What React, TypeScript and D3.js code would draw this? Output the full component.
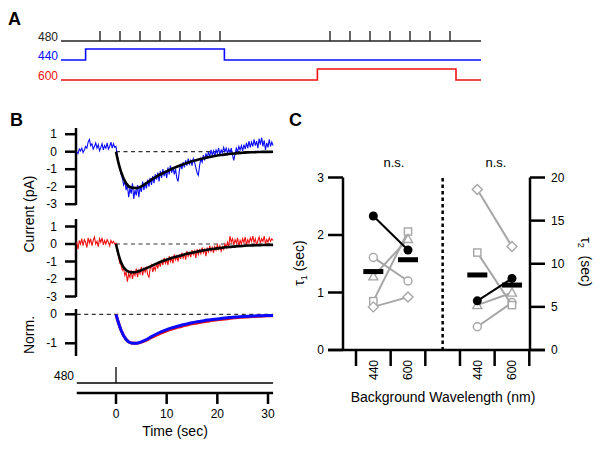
import React from 'react';
import * as d3 from 'd3';

const FONT = "'Liberation Sans', Arial, sans-serif";
const BLUE = '#0a0aff';
const RED = '#f01010';
const GRAY = '#a6a6a6';

// ---- panel A: stimulus protocol (minutes) ----
const protoEnd = 21;
const flashTimes = [1.95, 2.95, 3.95, 4.95, 5.95, 6.95, 7.95, 13.45, 14.45, 15.45, 16.45, 17.45, 18.45, 19.45];
const bg440 = [1.23, 8.17];
const bg600 = [12.82, 19.75];

// ---- panel B: currents ----
const traceStart = -7.75;
const traceStep = 0.25;
const blueTrace = [
  0.0, -0.1, 0.15, 0.05, 0.2, -0.05, 0.1, 0.3, 0.2, 0.55, 0.7, 0.35, 0.45, 0.15, 0.3, 0.5,
  0.2, 0.4, 0.05, 0.25, 0.45, 0.1, 0.35, 0.2, 0.5, 0.15, 0.3, 0.55, 0.2, 0.45, 0.25,
  0.3, -0.2, -0.6, -0.9, -1.3, -1.5, -1.9, -1.7, -2.2, -1.9, -2.6, -2.1, -2.4, -1.8, -2.7, -2.2,
  -2.5, -1.9, -2.6, -2.0, -2.3, -1.7, -2.2, -1.8, -2.1, -1.6, -2.0, -1.5, -1.9, -1.4, -1.8, -1.3,
  -1.6, -1.2, -1.7, -1.1, -1.5, -1.0, -1.4, -1.1, -1.5, -0.9, -1.3, -0.8, -1.2, -0.9, -1.3, -1.0,
  -1.5, -1.7, -1.1, -0.7, -1.0, -0.6, -0.9, -0.5, -0.8, -0.4, -0.7, -0.5, -0.8, -0.4, -0.6, -0.9,
  -1.2, -1.35, -0.8, -0.4, -0.6, -0.2, -0.5, -0.1, -0.4, 0.0, -0.3, 0.1, -0.2, 0.05, -0.25, 0.1,
  -0.1, 0.2, -0.15, 0.1, -0.05, 0.25, 0.0, 0.2, -0.1, 0.15, -0.05, 0.2, -0.2, -0.5, -0.1, 0.2,
  0.0, 0.3, 0.1, 0.35, 0.05, 0.4, 0.15, 0.5, 0.2, 0.6, 0.25, 0.55, 0.3, 0.7, 0.35, 0.6,
  0.2, 0.75, 0.4, 0.8, 0.3, 0.65, 0.1, 0.5, 0.25, 0.7, 0.3, 0.55, 0.35,
];
const redTrace = [
  0.1, -0.3, 0.2, 0.0, 0.3, -0.1, 0.25, 0.1, -0.2, 0.35, 0.05, 0.3, -0.1, 0.2, 0.4, 0.0,
  0.15, -0.15, 0.3, 0.1, 0.35, -0.05, 0.2, 0.0, 0.25, 0.1, -0.1, 0.2, 0.05, 0.15, 0.0,
  0.05, -0.4, -0.7, -1.1, -1.2, -1.5, -1.4, -1.8, -1.6, -2.15, -1.7, -1.9, -1.5, -2.0, -1.6, -1.8,
  -1.4, -1.9, -1.5, -1.7, -1.3, -1.8, -1.4, -1.6, -1.3, -1.75, -1.9, -1.4, -1.2, -1.6, -1.3, -1.5,
  -1.1, -1.4, -1.0, -1.3, -0.9, -1.2, -0.8, -1.1, -0.9, -1.2, -0.7, -1.0, -0.8, -1.1, -0.6, -0.9,
  -0.7, -1.0, -0.6, -0.85, -0.5, -0.8, -0.55, -0.9, -0.4, -0.7, -0.5, -0.75, -0.35, -0.6, -0.4, -0.8,
  -0.3, -0.6, -0.35, -0.55, -0.2, -0.5, -0.3, -0.7, -0.25, -0.45, -0.1, -0.4, -0.2, -0.5, -0.15, -0.35,
  -0.05, -0.3, -0.1, -0.4, -0.15, -0.3, 0.0, -0.2, 0.1, -0.15, 0.45, 0.1, 0.3, -0.05, 0.25, 0.05,
  0.35, -0.1, 0.2, 0.0, 0.3, 0.1, 0.4, -0.05, 0.25, 0.05, 0.35, 0.15, 0.45, 0.1, 0.3, -0.1,
  0.2, 0.4, 0.05, 0.3, 0.15, 0.45, 0.0, 0.25, 0.1, 0.35, 0.15, 0.3, 0.2,
];
const fitTimes = [0, 0.5, 1, 2, 3, 4, 5, 6, 7, 8, 9, 10, 11, 12, 13, 14, 15, 16, 17, 18, 19, 20, 21, 22, 23, 24, 25, 26, 27, 28, 29, 30, 31];
const blueFit = [0, -0.65, -1.15, -1.8, -2.05, -2.08, -1.98, -1.8, -1.6, -1.42, -1.26, -1.12, -0.98, -0.86, -0.75, -0.65, -0.55, -0.47, -0.4, -0.33, -0.27, -0.22, -0.18, -0.14, -0.11, -0.08, -0.06, -0.04, -0.03, -0.02, -0.01, -0.01, 0];
const redFit = [0, -0.6, -1.05, -1.5, -1.62, -1.6, -1.5, -1.38, -1.25, -1.12, -1.0, -0.9, -0.8, -0.72, -0.64, -0.56, -0.5, -0.44, -0.38, -0.33, -0.29, -0.25, -0.21, -0.18, -0.15, -0.13, -0.11, -0.09, -0.08, -0.07, -0.06, -0.05, -0.05];
const normBlue = [0, -0.3, -0.55, -0.87, -0.99, -1.0, -0.95, -0.87, -0.77, -0.68, -0.6, -0.53, -0.47, -0.42, -0.37, -0.33, -0.29, -0.26, -0.23, -0.2, -0.18, -0.16, -0.14, -0.12, -0.1, -0.09, -0.08, -0.07, -0.06, -0.05, -0.05, -0.04, -0.04];
const normRed = [0, -0.3, -0.55, -0.87, -0.99, -1.0, -0.96, -0.89, -0.8, -0.72, -0.64, -0.57, -0.51, -0.46, -0.41, -0.37, -0.33, -0.3, -0.27, -0.24, -0.21, -0.19, -0.17, -0.15, -0.13, -0.11, -0.1, -0.09, -0.08, -0.07, -0.06, -0.05, -0.05];
const currentTicks = [1, 0, -1, -2, -3];
const normTicks = [0, -1];
const timeTicks = [0, 10, 20, 30];

// ---- panel C: time constants ----
const slots = ['t1-440', 't1-600', 'gap', 't2-440', 't2-600'];
const subjectShapes = ['filledCircle', 'circle', 'square', 'triangle', 'diamond'];
const tau1At440 = [2.33, 1.61, 0.85, 1.28, 0.75];
const tau1At600 = [1.74, 1.2, 2.06, 1.93, 0.92];
const tau2At440 = [5.7, 2.7, 11.3, 5.2, 18.6];
const tau2At600 = [8.3, 5.5, 5.2, 6.65, 12.0];
const tau1Ticks = [0, 1, 2, 3];
const tau2Ticks = [0, 5, 10, 15, 20];

function Marker({ shape, x, y }: { shape: string; x: number; y: number }) {
  const sw = 1.4;
  if (shape === 'filledCircle') return <circle cx={x} cy={y} r={4.5} fill="#000" />;
  if (shape === 'circle') return <circle cx={x} cy={y} r={4} fill="#fff" stroke={GRAY} strokeWidth={sw} />;
  if (shape === 'square') return <rect x={x - 3.6} y={y - 3.6} width={7.2} height={7.2} fill="#fff" stroke={GRAY} strokeWidth={sw} />;
  if (shape === 'triangle') return <path d={`M${x},${y - 4.5}L${x + 4.5},${y + 3.5}L${x - 4.5},${y + 3.5}Z`} fill="#fff" stroke={GRAY} strokeWidth={sw} />;
  return <path d={`M${x},${y - 5}L${x + 5},${y}L${x},${y + 5}L${x - 5},${y}Z`} fill="#fff" stroke={GRAY} strokeWidth={sw} />;
}

export default function App() {
  // A
  const xA = d3.scaleLinear().domain([0, protoEnd]).range([61, 481]);
  const stepLine = (base: number) =>
    d3.line<[number, number]>().x(d => xA(d[0])).y(d => base - 11 * d[1]).curve(d3.curveStepAfter);
  const stepPts = (on: number, off: number): [number, number][] => [[0, 0], [on, 1], [off, 0], [protoEnd, 0]];

  // B
  const xB = d3.scaleLinear().domain([0, 30]).range([116, 268]);
  const yTop = d3.scaleLinear().domain([1, -3]).range([134.2, 204.2]);
  const yMid = d3.scaleLinear().domain([1, -3]).range([226.5, 296.5]);
  const yNorm = d3.scaleLinear().domain([0, -1]).range([314.3, 343.3]);
  const traceLine = (y: d3.ScaleLinear<number, number>, vals: number[]) =>
    d3.line<number>().x((_, i) => xB(traceStart + i * traceStep)).y(d => y(d))(vals) || '';
  const fitLine = (y: d3.ScaleLinear<number, number>, vals: number[]) =>
    d3.line<number>().x((_, i) => xB(fitTimes[i])).y(d => y(d)).curve(d3.curveMonotoneX)(vals) || '';
  const xStart = xB(traceStart);
  const xEnd = xB(31);
  const axisX = 76;

  const yAxis = (y: d3.ScaleLinear<number, number>, ticks: number[], top: number, bottom: number) => (
    <g>
      <line x1={axisX} x2={axisX} y1={top} y2={bottom} stroke="#000" strokeWidth={2.5} />
      {ticks.map(t => (
        <g key={t}>
          <line x1={axisX - 11} x2={axisX} y1={y(t)} y2={y(t)} stroke="#000" strokeWidth={2.5} />
          <text x={57} y={y(t) + 4} textAnchor="end" fontSize={12}>{t}</text>
        </g>
      ))}
    </g>
  );

  // C
  const xC = d3.scaleBand().domain(slots).range([356, 529.3]);
  const yT1 = d3.scaleLinear().domain([0, 3]).range([350, 177.5]);
  const yT2 = d3.scaleLinear().domain([0, 20]).range([350, 177.5]);
  const bw = xC.bandwidth();
  const cx = (s: string) => (xC(s) || 0) + bw / 2;
  const edges = [...slots.map(s => xC(s) || 0), xC.range()[1]];
  const groups = [
    { a: 't1-440', b: 't1-600', va: tau1At440, vb: tau1At600, y: yT1 },
    { a: 't2-440', b: 't2-600', va: tau2At440, vb: tau2At600, y: yT2 },
  ];
  const order = [1, 2, 3, 4, 0];

  return (
    <svg width={601} height={449} style={{ position: 'absolute', left: 0, top: 0, background: '#fff' }} fontFamily={FONT}>
      <rect width={601} height={449} fill="#fff" />
      {/* Panel A */}
      <text x={8} y={25} fontSize={18} fontWeight="bold">A</text>
      <line x1={xA(0)} x2={xA(protoEnd)} y1={41} y2={41} stroke="#222" strokeWidth={1.6} />
      {flashTimes.map(t => (
        <line key={t} x1={xA(t)} x2={xA(t)} y1={31} y2={41} stroke="#222" strokeWidth={1.4} />
      ))}
      <path d={stepLine(60)(stepPts(bg440[0], bg440[1])) || ''} fill="none" stroke={BLUE} strokeWidth={1.6} />
      <path d={stepLine(80)(stepPts(bg600[0], bg600[1])) || ''} fill="none" stroke={RED} strokeWidth={1.6} />
      <text x={58} y={41} textAnchor="end" fontSize={12} fill="#222">480</text>
      <text x={58} y={60} textAnchor="end" fontSize={12} fill={BLUE}>440</text>
      <text x={58} y={80} textAnchor="end" fontSize={12} fill={RED}>600</text>

      {/* Panel B */}
      <text x={10} y={126} fontSize={18} fontWeight="bold">B</text>
      {yAxis(yTop, currentTicks, 128, 205)}
      {yAxis(yMid, currentTicks, 219, 297)}
      {yAxis(yNorm, normTicks, 309, 356)}
      <text transform="translate(34,214) rotate(-90)" textAnchor="middle" fontSize={14}>Current (pA)</text>
      <text transform="translate(34,335) rotate(-90)" textAnchor="middle" fontSize={14}>Norm.</text>

      <line x1={xB(0)} x2={xEnd} y1={yTop(0)} y2={yTop(0)} stroke="#333" strokeWidth={1.2} strokeDasharray="4,3.5" />
      <path d={traceLine(yTop, blueTrace)} fill="none" stroke={BLUE} strokeWidth={1.1} />
      <path d={fitLine(yTop, blueFit)} fill="none" stroke="#000" strokeWidth={2.6} />

      <line x1={xB(0)} x2={xEnd} y1={yMid(0)} y2={yMid(0)} stroke="#333" strokeWidth={1.2} strokeDasharray="4,3.5" />
      <path d={traceLine(yMid, redTrace)} fill="none" stroke={RED} strokeWidth={1.1} />
      <path d={fitLine(yMid, redFit)} fill="none" stroke="#000" strokeWidth={2.6} />

      <line x1={xStart} x2={xEnd} y1={yNorm(0)} y2={yNorm(0)} stroke="#333" strokeWidth={1.2} strokeDasharray="4,3.5" />
      <path d={fitLine(yNorm, normRed)} fill="none" stroke={RED} strokeWidth={3} />
      <path d={fitLine(yNorm, normBlue)} fill="none" stroke={BLUE} strokeWidth={3} />

      <text x={74} y={380} textAnchor="end" fontSize={12}>480</text>
      <line x1={xStart} x2={xEnd} y1={383} y2={383} stroke="#000" strokeWidth={1.3} />
      <line x1={xB(0)} x2={xB(0)} y1={367} y2={383} stroke="#000" strokeWidth={1.3} />

      <line x1={xStart} x2={xEnd} y1={393} y2={393} stroke="#000" strokeWidth={2.5} />
      {timeTicks.map(t => (
        <g key={t}>
          <line x1={xB(t)} x2={xB(t)} y1={393} y2={404} stroke="#000" strokeWidth={2.5} />
          <text x={xB(t)} y={418} textAnchor="middle" fontSize={12}>{t}</text>
        </g>
      ))}
      <text x={175} y={436} textAnchor="middle" fontSize={14}>Time (sec)</text>

      {/* Panel C */}
      <text x={289} y={126} fontSize={18} fontWeight="bold">C</text>
      <text x={394} y={167} textAnchor="middle" fontSize={13}>n.s.</text>
      <text x={496} y={167} textAnchor="middle" fontSize={13}>n.s.</text>

      <line x1={343} x2={343} y1={yT1(3)} y2={350} stroke="#000" strokeWidth={2.5} />
      {tau1Ticks.map(t => (
        <g key={t}>
          <line x1={328} x2={343} y1={yT1(t)} y2={yT1(t)} stroke="#000" strokeWidth={2.5} />
          <text x={324} y={yT1(t) + 4} textAnchor="end" fontSize={12}>{t}</text>
        </g>
      ))}
      <line x1={530} x2={530} y1={yT2(20)} y2={350} stroke="#000" strokeWidth={2.5} />
      {tau2Ticks.map(t => (
        <g key={t}>
          <line x1={530} x2={545} y1={yT2(t)} y2={yT2(t)} stroke="#000" strokeWidth={2.5} />
          <text x={551} y={yT2(t) + 4} textAnchor="start" fontSize={12}>{t}</text>
        </g>
      ))}
      <line x1={328} x2={545} y1={350} y2={350} stroke="#000" strokeWidth={2.5} />
      {edges.map((e, i) => (
        <line key={i} x1={e} x2={e} y1={350} y2={366} stroke="#000" strokeWidth={2.5} />
      ))}
      {slots.filter(s => s !== 'gap').map(s => (
        <text key={s} transform={`translate(${cx(s) + 4.3},360) rotate(-90)`} textAnchor="end" fontSize={12}>
          {s.split('-')[1]}
        </text>
      ))}
      <line x1={cx('gap')} x2={cx('gap')} y1={178} y2={350} stroke="#000" strokeWidth={2.5} strokeDasharray="3.5,3" />

      {groups.map((g, gi) => (
        <g key={gi}>
          {order.map(i => (
            <g key={i}>
              <line x1={cx(g.a)} x2={cx(g.b)} y1={g.y(g.va[i])} y2={g.y(g.vb[i])}
                stroke={i === 0 ? '#000' : GRAY} strokeWidth={2} />
              <Marker shape={subjectShapes[i]} x={cx(g.a)} y={g.y(g.va[i])} />
              <Marker shape={subjectShapes[i]} x={cx(g.b)} y={g.y(g.vb[i])} />
            </g>
          ))}
          {[{ s: g.a, v: g.va }, { s: g.b, v: g.vb }].map(m => (
            <rect key={m.s} x={cx(m.s) - 10} y={g.y(d3.mean(m.v) || 0) - 2.5} width={20} height={5} fill="#000" />
          ))}
        </g>
      ))}

      <text transform="translate(304,263) rotate(-90)" textAnchor="middle" fontSize={14}>
        τ<tspan fontSize={9} dy={3}>1</tspan><tspan dy={-3}> (sec)</tspan>
      </text>
      <text transform="translate(581,262) rotate(90)" textAnchor="middle" fontSize={14}>
        τ<tspan fontSize={9} dy={3}>2</tspan><tspan dy={-3}>{'\u00a0\u00a0(sec)'}</tspan>
      </text>
      <text x={443} y={402} textAnchor="middle" fontSize={14}>Background Wavelength (nm)</text>
    </svg>
  );
}
